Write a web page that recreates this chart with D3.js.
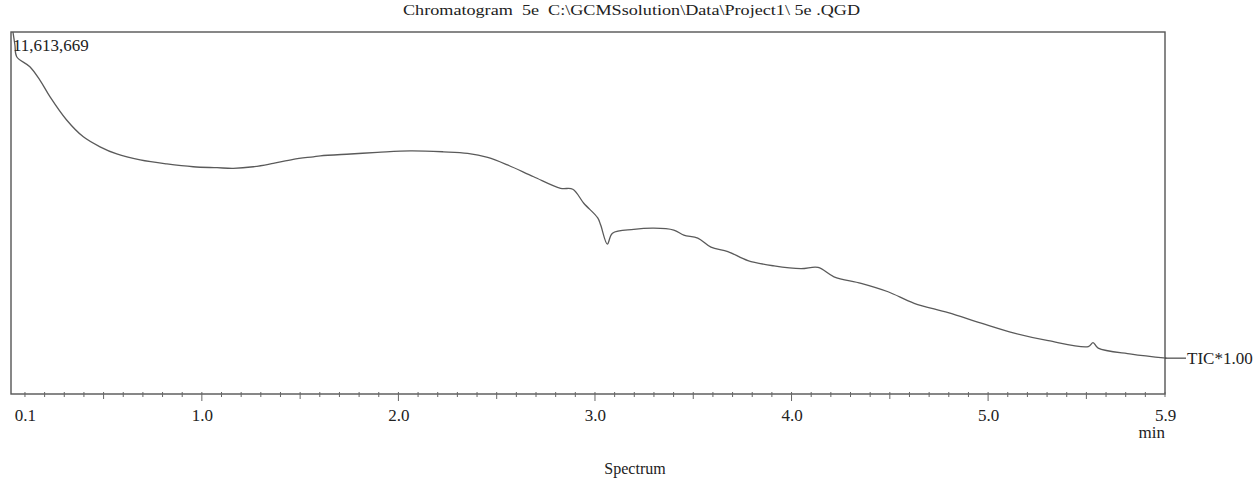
<!DOCTYPE html>
<html>
<head>
<meta charset="utf-8">
<script src="https://cdn.jsdelivr.net/npm/d3@7"></script>
<style>
  html, body { margin: 0; padding: 0; background: #fff; }
  svg { display: block; }
  text { font-family: "Liberation Serif", "DejaVu Serif", serif; fill: #222; }
</style>
</head>
<body>
<svg id="chart" width="1257" height="480"></svg>
<script>
// Retention time (min) and total ion current (counts)
const retentionTime = [
  0.039, 0.049, 0.058, 0.125, 0.176, 0.227, 0.312, 0.397, 0.482, 0.567,
  0.686, 0.822, 0.956, 1.077, 1.160, 1.262, 1.363, 1.465, 1.567, 1.603,
  1.756, 1.893, 2.061, 2.229, 2.352, 2.454, 2.555, 2.688, 2.825, 2.887,
  2.943, 3.014, 3.029, 3.063, 3.089, 3.197, 3.299, 3.401, 3.452, 3.523,
  3.590, 3.676, 3.778, 3.911, 4.048, 4.135, 4.216, 4.354, 4.491, 4.624,
  4.797, 4.965, 5.133, 5.306, 5.510, 5.534, 5.560, 5.729, 5.907
];
const ticIntensity = [
  11613669, 11196600, 10820000, 10500000, 10070000, 9540000, 8790000, 8250000, 7930000, 7700000,
  7510000, 7380000, 7290000, 7260000, 7240000, 7290000, 7400000, 7530000, 7610000, 7640000,
  7700000, 7750000, 7800000, 7770000, 7720000, 7590000, 7350000, 6970000, 6600000, 6570000,
  6120000, 5650000, 5420000, 4810000, 5160000, 5280000, 5320000, 5260000, 5100000, 5000000,
  4710000, 4570000, 4280000, 4110000, 4020000, 4060000, 3760000, 3550000, 3280000, 2910000,
  2610000, 2270000, 1950000, 1710000, 1520000, 1650000, 1470000, 1280000, 1150000
];
const labelledTicks = [0.1, 1.0, 2.0, 3.0, 4.0, 5.0, 5.9];
const timeDomain = [0.029, 5.9];
const maxIntensity = 11613669;

const titleText = "Chromatogram  5e  C:\\GCMSsolution\\Data\\Project1\\ 5e .QGD";

const svg = d3.select("#chart");
const frame = { left: 11, right: 1165, top: 32, bottom: 394 };

const x = d3.scaleLinear().domain(timeDomain).range([frame.left, frame.right]);
const y = d3.scaleLinear().domain([0, maxIntensity]).range([frame.bottom, frame.top]);

// Title
svg.append("text")
  .attr("x", 403).attr("y", 15)
  .attr("font-size", 15.5)
  .attr("textLength", 457).attr("lengthAdjust", "spacingAndGlyphs")
  .style("white-space", "pre")
  .text(titleText);

// Plot frame
svg.append("rect")
  .attr("x", frame.left).attr("y", frame.top)
  .attr("width", frame.right - frame.left).attr("height", frame.bottom - frame.top)
  .attr("fill", "none").attr("stroke", "#555").attr("stroke-width", 1.4);

// Minor ticks every 0.1 min
const minorTicks = d3.range(1, 60).map(i => +(i / 10).toFixed(1));
const tickG = svg.append("g");
tickG.selectAll("line")
  .data(minorTicks)
  .join("line")
  .attr("x1", d => x(d)).attr("x2", d => x(d))
  .attr("y1", d => frame.bottom - 2)
  .attr("y2", d => {
    const whole = Math.abs(d - Math.round(d)) < 1e-6;
    const half = Math.abs(d * 2 - Math.round(d * 2)) < 1e-6;
    return frame.bottom + (whole ? 7 : half ? 5 : 3);
  })
  .attr("stroke", "#666").attr("stroke-width", 1);

// Tick labels
const axis = d3.axisBottom(x)
  .tickValues(labelledTicks)
  .tickSize(0)
  .tickPadding(0)
  .tickFormat(d3.format(".1f"));
const axisG = svg.append("g")
  .attr("transform", `translate(0,${frame.bottom + 15})`)
  .call(axis);
axisG.select(".domain").remove();
axisG.selectAll("text")
  .attr("font-size", 17)
  .attr("fill", "#222")
  .style("font-family", "Liberation Serif, serif");

svg.append("text")
  .attr("x", 1165).attr("y", 438)
  .attr("text-anchor", "end")
  .attr("font-size", 17)
  .text("min");

// TIC trace
const line = d3.line()
  .x((d, i) => x(retentionTime[i]))
  .y(d => y(d))
  .curve(d3.curveCatmullRom.alpha(0.5));
svg.append("path")
  .datum(ticIntensity)
  .attr("d", line)
  .attr("fill", "none")
  .attr("stroke", "#5a5a5a")
  .attr("stroke-width", 1.3)
  .attr("stroke-linejoin", "round");

// Peak-top intensity label
svg.append("text")
  .attr("x", 13).attr("y", 51)
  .attr("font-size", 17)
  .text(d3.format(",")(maxIntensity));

// Trace name at the right edge
const lastY = y(ticIntensity[ticIntensity.length - 1]);
svg.append("line")
  .attr("x1", frame.right).attr("x2", 1186)
  .attr("y1", lastY).attr("y2", lastY)
  .attr("stroke", "#444").attr("stroke-width", 1.2);
svg.append("text")
  .attr("x", 1187).attr("y", lastY + 6)
  .attr("font-size", 17)
  .text("TIC*1.00");

// Footer
svg.append("text")
  .attr("x", 635).attr("y", 474)
  .attr("text-anchor", "middle")
  .attr("font-size", 16)
  .text("Spectrum");
</script>
</body>
</html>
